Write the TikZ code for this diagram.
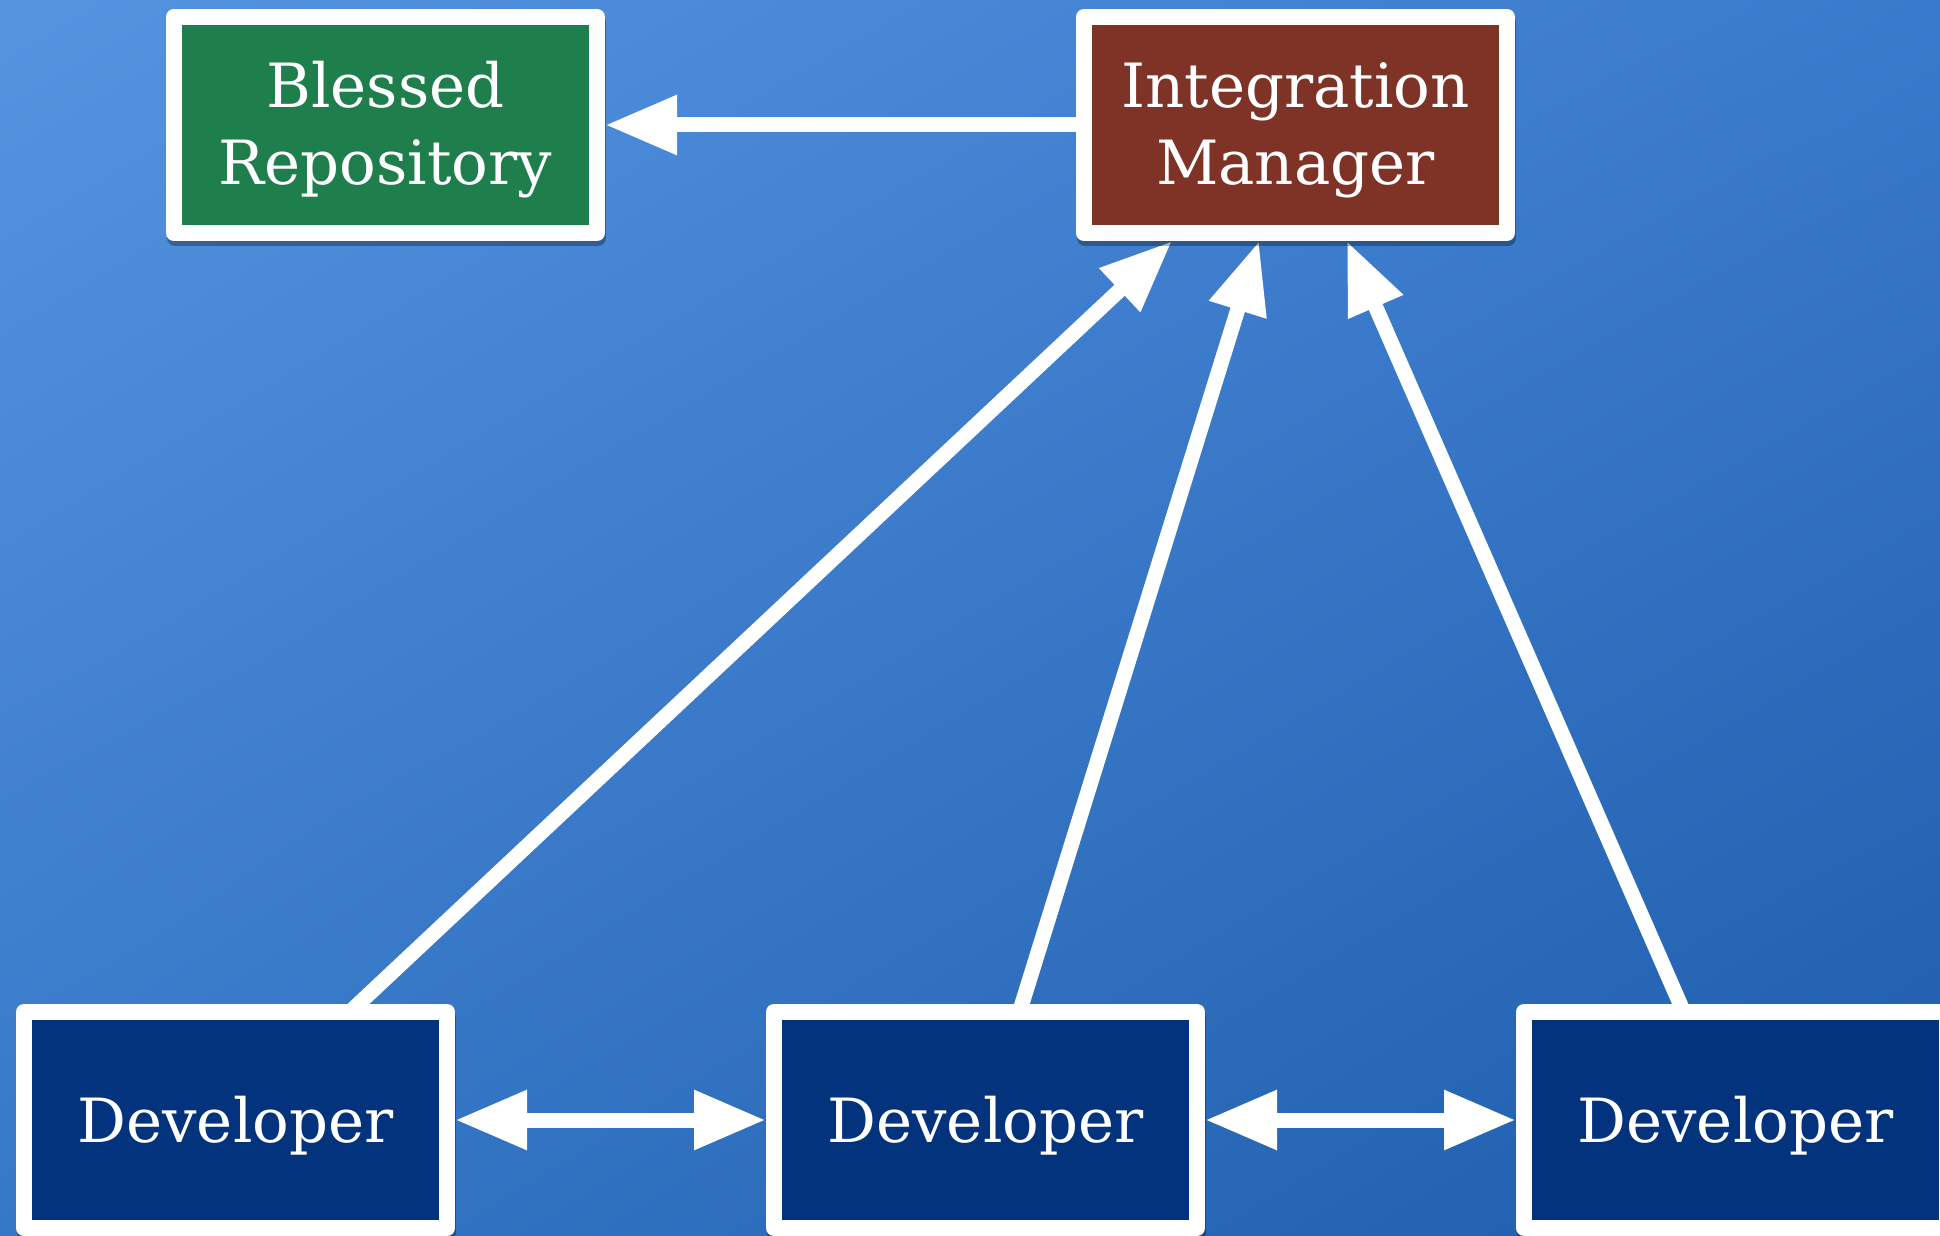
\documentclass[tikz,border=0pt]{standalone}
\usepackage{fontspec}
\setmainfont{DejaVu Serif}
\usetikzlibrary{arrows.meta,calc,shadows,shadings,backgrounds}
\definecolor{bgTL}{RGB}{86,148,224}
\definecolor{bgTR}{RGB}{58,122,204}
\definecolor{bgBL}{RGB}{54,120,200}
\definecolor{bgBR}{RGB}{30,92,170}
\definecolor{repogreen}{RGB}{30,126,76}
\definecolor{mgrbrown}{RGB}{126,51,38}
\definecolor{devblue}{RGB}{3,51,125}
\begin{document}
\begin{tikzpicture}[x=1pt,y=1pt,
  box/.style={draw=white, line width=16pt, line join=round, minimum width=423pt,
    minimum height=216pt, inner sep=0pt, outer sep=8pt,
    drop shadow={draw=black, fill=black, line width=16pt, shadow xshift=1pt, shadow yshift=-5pt, opacity=.3}},
  lbl/.style={text=white, font=\fontsize{61}{72}\selectfont, anchor=base, inner sep=0pt},
  bigtri/.tip={Triangle[length=72pt,width=56pt]},
  conn/.style={draw=white, line width=15pt,
    preaction={draw=black, opacity=.28, transform canvas={yshift=-5pt,xshift=1pt}}}]
\useasboundingbox (0,0) rectangle (1940,1235);
\clip (0,0) rectangle (1940,1235);
\begin{scope}[on background layer]
\shade[upper left=bgTL, upper right=bgTR, lower left=bgBL, lower right=bgBR] (0,0) rectangle (1940,1235);
\end{scope}

% boxes
\node[box, fill=repogreen] (br) at (385.5,1110) {};
\node[box, fill=mgrbrown] (im) at (1295.5,1110) {};
\node[box, fill=devblue] (d1) at (235.5,115) {};
\node[box, fill=devblue] (d2) at (985.5,115) {};
\node[box, fill=devblue] (d3) at (1735.5,115) {};

% labels
\node[lbl] (brt1) at (385.5,1127) {Blessed};
\node[lbl] (brt2) at (385.5,1050) {Repository};
\node[lbl] (imt1) at (1295.5,1127) {Integration};
\node[lbl] (imt2) at (1295.5,1050) {Manager};
\node[lbl] (d1t) at (235.5,93) {Developer};
\node[lbl] (d2t) at (985.5,93) {Developer};
\node[lbl] (d3t) at (1735.5,93) {Developer};

% connectors
\coordinate (s1) at ($(d1.north west)!0.78!(d1.north east)$);
\coordinate (s2) at ($(d2.north west)!0.583!(d2.north east)$);
\coordinate (s3) at ($(d3.north west)!0.374!(d3.north east)$);
\coordinate (e1) at ($(im.south west)!0.219!(im.south east)$);
\coordinate (e2) at ($(im.south west)!0.417!(im.south east)$);
\coordinate (e3) at ($(im.south west)!0.617!(im.south east)$);
\begin{scope}[on background layer]
\draw[conn, -bigtri] (im.west) -- (br.east);
\draw[conn, bigtri-bigtri] (d1.east) -- (d2.west);
\draw[conn, bigtri-bigtri] (d2.east) -- (d3.west);
\draw[conn, -bigtri] ($(s1)!-14pt!(e1)$) -- (e1);
\draw[conn, -bigtri] ($(s2)!-14pt!(e2)$) -- (e2);
\draw[conn, -bigtri] ($(s3)!-14pt!(e3)$) -- (e3);
\end{scope}
\end{tikzpicture}
\end{document}
